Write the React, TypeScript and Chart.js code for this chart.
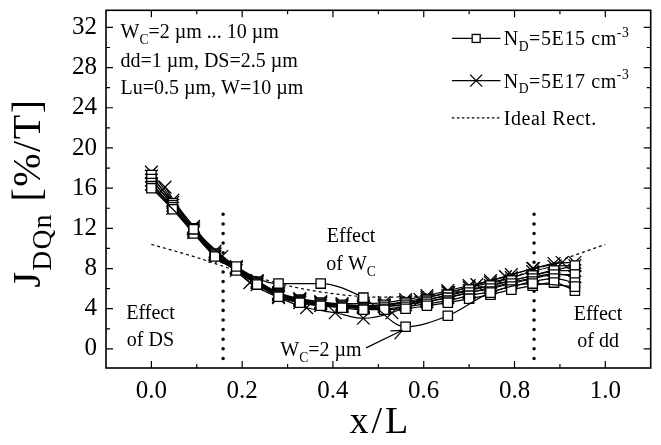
import React, { useEffect, useRef } from 'react';
import { Chart, registerables } from 'chart.js';

Chart.register(...registerables);

const FONT = '"Liberation Serif", "Times New Roman", serif';

// x positions of the densely sampled curves (x/L)
const xGrid = [0, 0.047, 0.093, 0.14, 0.187, 0.233, 0.28, 0.327, 0.373, 0.42, 0.467, 0.513, 0.56, 0.607, 0.653, 0.7, 0.747, 0.793, 0.84, 0.887, 0.933];

// N_D = 5E15 cm^-3 (squares)
const sqWc4 = [16.2, 13.9, 11.5, 9.2, 7.8, 6.4, 5.2, 4.6, 4.3, 4.1, 3.9, 3.9, 4.0, 4.3, 4.6, 5.0, 5.4, 5.9, 6.3, 6.6, 5.8];
const sqWc6 = [16.5, 14.1, 11.7, 9.3, 7.9, 6.5, 5.3, 4.7, 4.4, 4.2, 4.0, 4.0, 4.2, 4.5, 4.8, 5.3, 5.7, 6.2, 6.7, 7.0, 6.6];
const sqWc8 = [16.9, 14.3, 11.8, 9.4, 8.0, 6.6, 5.4, 4.8, 4.5, 4.3, 4.1, 4.2, 4.4, 4.7, 5.1, 5.6, 6.0, 6.5, 7.0, 7.4, 7.4];
const sqWc10 = [17.3, 14.5, 12.0, 9.5, 8.1, 6.7, 5.5, 4.9, 4.6, 4.4, 4.3, 4.4, 4.6, 4.9, 5.4, 5.9, 6.3, 6.8, 7.3, 7.8, 8.3];
const xSqWc2 = [0, 0.093, 0.187, 0.28, 0.373, 0.467, 0.56, 0.653, 0.747, 0.84, 0.933];
const sqWc2 = [16.0, 11.9, 8.2, 6.5, 6.5, 5.1, 2.2, 3.3, 5.6, 6.5, 6.2];

// N_D = 5E17 cm^-3 (crosses)
const crWc4 = [16.4, 14.0, 11.6, 9.2, 7.8, 6.4, 5.2, 4.6, 4.3, 4.2, 4.1, 4.2, 4.4, 4.7, 5.1, 5.6, 6.1, 6.6, 7.1, 7.5, 7.2];
const crWc6 = [16.8, 14.3, 11.8, 9.4, 8.0, 6.6, 5.4, 4.8, 4.5, 4.3, 4.2, 4.3, 4.6, 4.9, 5.3, 5.8, 6.3, 6.8, 7.3, 7.8, 7.8];
const crWc8 = [17.2, 14.6, 12.0, 9.5, 8.1, 6.7, 5.5, 4.9, 4.6, 4.4, 4.3, 4.4, 4.7, 5.1, 5.6, 6.1, 6.6, 7.1, 7.7, 8.2, 8.3];
const crWc10 = [17.6, 14.8, 12.2, 9.7, 8.2, 6.8, 5.6, 5.0, 4.7, 4.5, 4.5, 4.6, 4.9, 5.3, 5.8, 6.3, 6.8, 7.4, 8.0, 8.5, 8.6];
const xCrWc2 = [0.03, 0.092, 0.155, 0.217, 0.28, 0.342, 0.405, 0.467, 0.53, 0.592, 0.655, 0.717, 0.78, 0.842, 0.905];
const crWc2 = [16.1, 12.0, 9.2, 6.6, 5.1, 4.1, 3.6, 3.05, 3.6, 4.9, 5.6, 6.4, 7.2, 8.0, 8.6];

// Ideal rectangular device
const xIdeal = [0, 0.1, 0.2, 0.3, 0.4, 0.5, 0.6, 0.7, 0.8, 0.9, 1.0];
const idealRect = [10.4, 9.1, 7.6, 6.3, 5.5, 5.15, 5.3, 5.9, 7.2, 8.8, 10.4];

// region dividers
const dividerX = [0.158, 0.843];
const dividerY = [13.4, -1.3];

// axis ranges / ticks
const X_MIN = -0.1, X_MAX = 1.1, X_MINOR = 0.1;
const Y_MIN = -1.9, Y_MAX = 33.7, Y_MINOR = 2;

type Seg = { t: string; s?: 'sub' | 'sup' };

function segsWidth(ctx: CanvasRenderingContext2D, segs: Seg[], size: number) {
  let w = 0;
  for (const g of segs) {
    ctx.font = `${g.s ? size * 0.68 : size}px ${FONT}`;
    w += ctx.measureText(g.t).width;
  }
  return w;
}

function drawSegs(ctx: CanvasRenderingContext2D, segs: Seg[], x: number, y: number, size: number, align: 'left' | 'center') {
  const w = segsWidth(ctx, segs, size);
  let cx = align === 'center' ? x - w / 2 : x;
  ctx.textAlign = 'left';
  ctx.textBaseline = 'alphabetic';
  for (const g of segs) {
    const fs = g.s ? size * 0.68 : size;
    ctx.font = `${fs}px ${FONT}`;
    const dy = g.s === 'sub' ? size * 0.28 : g.s === 'sup' ? -size * 0.42 : 0;
    ctx.fillText(g.t, cx, y + dy);
    cx += ctx.measureText(g.t).width;
  }
}

const pts = (xs: number[], ys: number[]) => xs.map((x, i) => ({ x, y: ys[i] }));

export default function App() {
  const ref = useRef<HTMLCanvasElement>(null);

  useEffect(() => {
    const canvas = ref.current;
    if (!canvas) return;

    const curve = (label: string, xs: number[], ys: number[], style: 'rect' | 'crossRot') => ({
      label,
      data: pts(xs, ys),
      borderColor: '#000',
      borderWidth: 1.2,
      pointStyle: style,
      pointRadius: style === 'rect' ? 6.6 : 9,
      pointBorderWidth: 1.3,
      pointBackgroundColor: '#fff',
      pointBorderColor: '#000',
      cubicInterpolationMode: 'monotone' as const,
      fill: false,
    });

    const datasets: any[] = [
      curve('sq WC=2', xSqWc2, sqWc2, 'rect'),
      curve('sq WC=4', xGrid, sqWc4, 'rect'),
      curve('sq WC=6', xGrid, sqWc6, 'rect'),
      curve('sq WC=8', xGrid, sqWc8, 'rect'),
      curve('sq WC=10', xGrid, sqWc10, 'rect'),
      curve('cr WC=2', xCrWc2, crWc2, 'crossRot'),
      curve('cr WC=4', xGrid, crWc4, 'crossRot'),
      curve('cr WC=6', xGrid, crWc6, 'crossRot'),
      curve('cr WC=8', xGrid, crWc8, 'crossRot'),
      curve('cr WC=10', xGrid, crWc10, 'crossRot'),
      {
        label: 'Ideal Rect.',
        data: pts(xIdeal, idealRect),
        borderColor: '#000',
        borderWidth: 1.2,
        borderDash: [3, 3],
        pointRadius: 0,
        cubicInterpolationMode: 'monotone',
        fill: false,
      },
      ...dividerX.map((dx) => ({
        label: 'divider',
        data: dividerY.map((dy) => ({ x: dx, y: dy })),
        borderColor: '#000',
        borderWidth: 3.5,
        borderDash: [0.01, 9.6],
        borderCapStyle: 'round',
        pointRadius: 0,
        fill: false,
      })),
    ];

    const annot = {
      id: 'annot',
      afterDraw(chart: any) {
        const ctx: CanvasRenderingContext2D = chart.ctx;
        const xs = chart.scales.x;
        const ys = chart.scales.y;
        const { left, right, top, bottom } = chart.chartArea;
        const X = (v: number) => xs.getPixelForValue(v);
        const Y = (v: number) => ys.getPixelForValue(v);
        ctx.save();
        ctx.strokeStyle = '#000';
        ctx.fillStyle = '#000';
        // frame
        ctx.lineWidth = 1.6;
        ctx.strokeRect(left, top, right - left, bottom - top);
        // inward ticks on all four sides
        ctx.lineWidth = 1.2;
        ctx.beginPath();
        const nx = Math.round((X_MAX - X_MIN) / X_MINOR);
        for (let i = 0; i <= nx; i++) {
          const v = X_MIN + i * X_MINOR;
          const p = X(v);
          if (p <= left + 1 || p >= right - 1) continue;
          const len = Math.round(v * 10) % 2 === 0 ? 7 : 4;
          ctx.moveTo(p, bottom); ctx.lineTo(p, bottom - len);
          ctx.moveTo(p, top); ctx.lineTo(p, top + len);
        }
        for (let v = Math.ceil(Y_MIN / Y_MINOR) * Y_MINOR; v <= Y_MAX; v += Y_MINOR) {
          const p = Y(v);
          if (p >= bottom - 1 || p <= top + 1) continue;
          const len = v % 4 === 0 ? 7 : 4;
          ctx.moveTo(left, p); ctx.lineTo(left + len, p);
          ctx.moveTo(right, p); ctx.lineTo(right - len, p);
        }
        ctx.stroke();

        // axis titles
        ctx.save();
        (ctx as any).letterSpacing = '1.5px';
        ctx.translate(40, 193);
        ctx.rotate(-Math.PI / 2);
        drawSegs(ctx, [{ t: 'J' }, { t: 'DQn', s: 'sub' }, { t: ' [%/T]' }], 0, 0, 40, 'center');
        ctx.restore();
        ctx.save();
        (ctx as any).letterSpacing = '3px';
        drawSegs(ctx, [{ t: 'x/L' }], (left + right) / 2 + 2, 433, 38, 'center');
        ctx.restore();

        // info text top left
        const fs = 20;
        drawSegs(ctx, [{ t: 'W' }, { t: 'C', s: 'sub' }, { t: '=2 \u00b5m ... 10 \u00b5m' }], X(-0.068), Y(30.9), fs, 'left');
        drawSegs(ctx, [{ t: 'dd=1 \u00b5m, DS=2.5 \u00b5m' }], X(-0.068), Y(28.05), fs, 'left');
        drawSegs(ctx, [{ t: 'Lu=0.5 \u00b5m, W=10 \u00b5m' }], X(-0.068), Y(25.4), fs, 'left');

        // legend
        const lx0 = X(0.662), lx1 = X(0.769), tx = X(0.776);
        const rows = [30.9, 26.7, 23.0].map(Y);
        ctx.lineWidth = 1.2;
        ctx.beginPath();
        ctx.moveTo(lx0, rows[0]); ctx.lineTo(lx1, rows[0]);
        ctx.moveTo(lx0, rows[1]); ctx.lineTo(lx1, rows[1]);
        ctx.stroke();
        const mx = (lx0 + lx1) / 2;
        ctx.fillStyle = '#fff';
        ctx.fillRect(mx - 4, rows[0] - 4, 8, 8);
        ctx.lineWidth = 1.3;
        ctx.strokeRect(mx - 4, rows[0] - 4, 8, 8);
        ctx.beginPath();
        ctx.moveTo(mx - 6, rows[1] - 6); ctx.lineTo(mx + 6, rows[1] + 6);
        ctx.moveTo(mx - 6, rows[1] + 6); ctx.lineTo(mx + 6, rows[1] - 6);
        ctx.stroke();
        ctx.setLineDash([2.5, 2.5]);
        ctx.lineWidth = 1.2;
        ctx.beginPath();
        ctx.moveTo(lx0, rows[2]); ctx.lineTo(lx1, rows[2]);
        ctx.stroke();
        ctx.setLineDash([]);
        ctx.fillStyle = '#000';
        ctx.save();
        (ctx as any).letterSpacing = '0.6px';
        drawSegs(ctx, [{ t: 'N' }, { t: 'D', s: 'sub' }, { t: '=5E15 cm' }, { t: '-3', s: 'sup' }], tx, rows[0] + 7, fs, 'left');
        drawSegs(ctx, [{ t: 'N' }, { t: 'D', s: 'sub' }, { t: '=5E17 cm' }, { t: '-3', s: 'sup' }], tx, rows[1] + 7, fs, 'left');
        drawSegs(ctx, [{ t: 'Ideal Rect.' }], tx, rows[2] + 7, fs, 'left');
        ctx.restore();

        // region labels
        drawSegs(ctx, [{ t: 'Effect' }], X(-0.002), Y(3.0), fs, 'center');
        drawSegs(ctx, [{ t: 'of DS' }], X(-0.002), Y(0.25), fs, 'center');
        drawSegs(ctx, [{ t: 'Effect' }], X(0.44), Y(10.6), fs, 'center');
        drawSegs(ctx, [{ t: 'of W' }, { t: 'C', s: 'sub' }], X(0.44), Y(7.85), fs, 'center');
        drawSegs(ctx, [{ t: 'Effect' }], X(0.984), Y(2.9), fs, 'center');
        drawSegs(ctx, [{ t: 'of dd' }], X(0.984), Y(0.2), fs, 'center');

        // W_C = 2 um label with arrow
        drawSegs(ctx, [{ t: 'W' }, { t: 'C', s: 'sub' }, { t: '=2 \u00b5m' }], X(0.284), Y(-0.75), fs, 'left');
        const ax0 = X(0.473), ay0 = Y(0.1), ax1 = X(0.553), ay1 = Y(1.85);
        ctx.lineWidth = 1.2;
        ctx.beginPath();
        ctx.moveTo(ax0, ay0); ctx.lineTo(ax1, ay1);
        const ang = Math.atan2(ay1 - ay0, ax1 - ax0);
        const hl = 12;
        ctx.moveTo(ax1, ay1); ctx.lineTo(ax1 - hl * Math.cos(ang - 0.4), ay1 - hl * Math.sin(ang - 0.4));
        ctx.moveTo(ax1, ay1); ctx.lineTo(ax1 - hl * Math.cos(ang + 0.4), ay1 - hl * Math.sin(ang + 0.4));
        ctx.stroke();
        ctx.restore();
      },
    };

    const chart = new Chart(canvas, {
      type: 'line',
      data: { datasets },
      options: {
        animation: false,
        responsive: false,
        devicePixelRatio: 1,
        layout: { padding: { top: 7, right: 9, left: 0, bottom: 0 } },
        plugins: { legend: { display: false }, tooltip: { enabled: false } },
        scales: {
          x: {
            type: 'linear',
            min: X_MIN,
            max: X_MAX,
            grid: { display: false, drawTicks: false },
            border: { display: false },
            ticks: {
              stepSize: X_MINOR,
              includeBounds: false,
              autoSkip: false,
              maxRotation: 0,
              padding: 8,
              color: '#000',
              font: { family: FONT, size: 25 },
              callback: (v: any) => {
                const r = Math.round(Number(v) * 10);
                return r % 2 === 0 && r >= 0 && r <= 10 ? (r / 10).toFixed(1) : '';
              },
            },
            afterFit: (s: any) => { s.height = 77; s.paddingLeft = 0; s.paddingRight = 0; },
          },
          y: {
            type: 'linear',
            min: Y_MIN,
            max: Y_MAX,
            grid: { display: false, drawTicks: false },
            border: { display: false },
            ticks: {
              stepSize: Y_MINOR,
              includeBounds: false,
              autoSkip: false,
              padding: 9,
              color: '#000',
              font: { family: FONT, size: 25 },
              callback: (v: any) => {
                const n = Math.round(Number(v));
                return n % 4 === 0 && n >= 0 ? String(n) : '';
              },
            },
            afterFit: (s: any) => { s.width = 106; s.paddingTop = 0; s.paddingBottom = 0; },
          },
        },
      },
      plugins: [annot],
    } as any);

    return () => chart.destroy();
  }, []);

  return (
    <div style={{ position: 'absolute', left: 0, top: 0, width: 661, height: 445, background: '#fff' }}>
      <canvas ref={ref} width={661} height={445} style={{ display: 'block' }} />
    </div>
  );
}
